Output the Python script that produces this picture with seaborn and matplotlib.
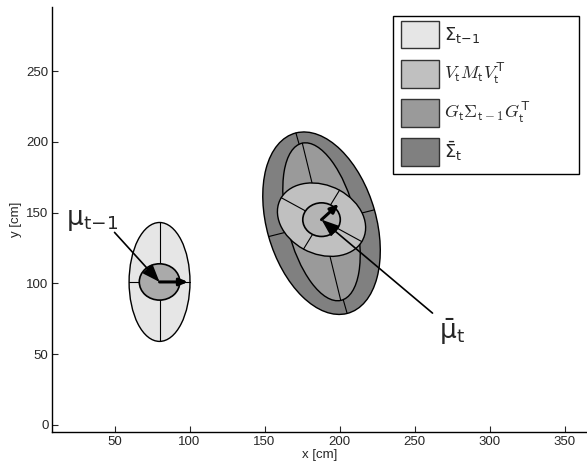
import matplotlib

matplotlib.use("Agg")
import matplotlib.pyplot as plt
import numpy as np
import seaborn as sns
from matplotlib.patches import Ellipse, Patch, Rectangle

# covariance ellipses: Sigma_{t-1}, V M V^T, G Sigma G^T, Sigma_bar_t
cov_labels = [
    "Σ$_{\\mathrm{t\\!-\\!1}}$",
    "$V_\\mathsf{t} M_\\mathsf{t} V_\\mathsf{t}^\\mathsf{T}$",
    "$G_\\mathsf{t} \\Sigma_\\mathsf{t-1} G_\\mathsf{t}^\\mathsf{T}$",
    "$\\bar{\\Sigma}_\\mathrm{t}$",
]
cov_center_x = [80, 188, 188, 188]
cov_center_y = [101, 145, 143.5, 142.5]
cov_semi_major = [42, 31, 57, 66]
cov_semi_minor = [20.3, 24, 23, 36.5]
cov_angle = [90, -30, 103, 105]
cov_colors = ["#e6e6e6", "#c0c0c0", "#9a9a9a", "#808080"]
draw_order = [0, 3, 2, 1]

# means (previous and predicted)
mean_x = [80, 188]
mean_y = [101, 145]
mean_radius = [13.5, 12.5]
mean_colors = ["#aaaaaa", "#b4b4b4"]
heading_deg = [0, 44]
heading_len = [19, 16]

mean_labels = ["μ$_{\\mathrm{t\\!-\\!1}}$", "$\\bar{\\mathrm{\\mu}}_\\mathrm{t}$"]
label_x = [35, 275]
label_y = [145, 66]
arrow_tail_x = [50, 262]
arrow_tail_y = [136, 79]

sns.set_style("ticks", {"xtick.direction": "in", "ytick.direction": "in"})
plt.rcParams["font.family"] = ["Liberation Sans", "DejaVu Sans"]

W, H = 587, 468
fig = plt.figure(figsize=(W / 100, H / 100), dpi=100)
ax = fig.add_axes([52 / W, 1 - 432.3 / H, 1 - 52 / W, 425 / H])

z = 2
for i in draw_order:
    cx, cy = cov_center_x[i], cov_center_y[i]
    a, b = cov_semi_major[i], cov_semi_minor[i]
    th = np.deg2rad(cov_angle[i])
    ax.add_patch(Ellipse((cx, cy), 2 * a, 2 * b, angle=cov_angle[i],
                         facecolor=cov_colors[i], edgecolor="black", lw=1.0, zorder=z))
    ax.plot([cx - a * np.cos(th), cx + a * np.cos(th)],
            [cy - a * np.sin(th), cy + a * np.sin(th)], color="black", lw=0.8, zorder=z + 0.5)
    ax.plot([cx + b * np.sin(th), cx - b * np.sin(th)],
            [cy - b * np.cos(th), cy + b * np.cos(th)], color="black", lw=0.8, zorder=z + 0.5)
    z += 1

for i in range(2):
    ax.add_patch(Ellipse((mean_x[i], mean_y[i]), 2 * mean_radius[i], 1.9 * mean_radius[i],
                         facecolor=mean_colors[i], edgecolor="black", lw=1.2, zorder=10))
    h = np.deg2rad(heading_deg[i])
    ax.annotate("", xy=(mean_x[i] + heading_len[i] * np.cos(h), mean_y[i] + heading_len[i] * np.sin(h)),
                xytext=(mean_x[i], mean_y[i]),
                arrowprops=dict(arrowstyle="-|>,head_length=0.35,head_width=0.15", lw=2.2,
                                color="black", mutation_scale=14, shrinkA=0, shrinkB=0),
                zorder=11)
    ax.annotate("", xy=(mean_x[i], mean_y[i]), xytext=(arrow_tail_x[i], arrow_tail_y[i]),
                arrowprops=dict(arrowstyle="-|>,head_length=0.45,head_width=0.17", lw=1.2,
                                color="black", mutation_scale=24, shrinkA=0, shrinkB=0),
                zorder=12)
    ax.text(label_x[i], label_y[i], mean_labels[i], fontsize=19, ha="center", va="center",
            family="DejaVu Sans", zorder=12)

ax.set_xlim(8.3, 365)
ax.set_ylim(-5.2, 295)
ax.set_xticks([50, 100, 150, 200, 250, 300, 350])
ax.set_yticks([0, 50, 100, 150, 200, 250])
ax.tick_params(direction="in", length=4, width=0.8, labelsize=9.5, pad=2.5)
ax.set_xlabel("x [cm]", fontsize=9.5, labelpad=1)
ax.set_ylabel("y [cm]", fontsize=9.5, labelpad=3)
sns.despine(ax=ax)
for s in ("left", "bottom"):
    ax.spines[s].set_linewidth(1.0)
    ax.spines[s].set_color("black")

# legend frame (MATLAB style, wider than its contents)
fig.patches.append(Rectangle((392.7 / W, 1 - 174 / H), (579.3 - 392.7) / W, (174 - 16) / H,
                             transform=fig.transFigure, facecolor="white", edgecolor="black",
                             lw=1.0, zorder=20))
handles = [Patch(facecolor=c, edgecolor="#333333", lw=1.0) for c in cov_colors]
leg = fig.legend(handles, cov_labels, loc="upper left", bbox_to_anchor=(400.7 / W, 1 - 21 / H),
                 bbox_transform=fig.transFigure, borderaxespad=0, borderpad=0, fontsize=13,
                 handlelength=2.14, handleheight=1.96, handletextpad=0.26, labelspacing=0.65,
                 frameon=False)
leg.set_zorder(21)
for i, t in enumerate(leg.get_texts()):
    t.set_family("DejaVu Sans")
    if i in (1, 2):
        t.set_math_fontfamily("cm")

fig.savefig("out.png", dpi=100)
